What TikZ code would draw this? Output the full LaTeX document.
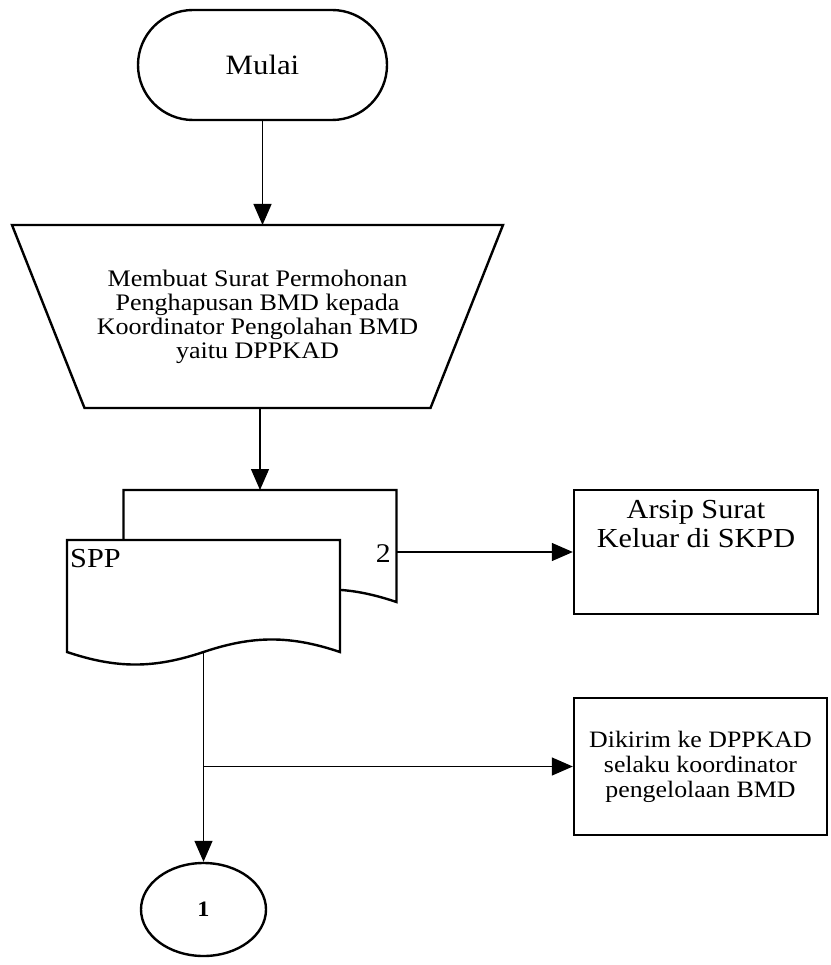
\documentclass[tikz,border=0pt]{standalone}
\usepackage{fontspec}
\setmainfont{Liberation Serif}[FakeStretch=1.1]
\usetikzlibrary{arrows.meta,shapes.misc,shapes.geometric}

\begin{document}
\begin{tikzpicture}[x=1pt,y=-1pt,
  outline/.style={line width=2.4pt, line join=miter},
  flow/.style={line width=1.3pt, -{Triangle[length=21pt,width=18pt]}},
  procbox/.style={draw, outline, fill=white, inner sep=0pt},
  holder/.style={inner sep=0pt, outer sep=0pt},
]
\useasboundingbox (0,0) rectangle (830,965);

% start terminator
\node[procbox, rounded rectangle, minimum width=249pt, minimum height=110pt,
      font=\fontsize{28}{30}\selectfont] (start) at (262.5,65) {Mulai};

% manual operation (trapezoid, wide side up)
\node[holder, minimum width=491pt, minimum height=183pt, align=center,
      font=\fontsize{23.7}{24}\selectfont] (make) at (257.5,316.5)
  {Membuat Surat Permohonan\\Penghapusan BMD kepada\\Koordinator Pengolahan BMD\\yaitu DPPKAD};
\draw[outline] (make.north west) -- (make.north east)
  -- ([xshift=-72.5pt]make.south east) -- ([xshift=72.5pt]make.south west) -- cycle;

% document with its copy behind it
\node[holder, minimum width=273pt, minimum height=112pt] (copy2) at (260,546) {};
\node[holder, minimum width=273pt, minimum height=112pt] (spp) at (203.5,596) {};
\draw[outline, fill=white, shift={(copy2.north west)}]
  (0,112) -- (0,0) -- (273,0) -- (273,112)
  .. controls (223.3,95.3) and (186.2,95.3) .. (136.5,112)
  .. controls (86.8,128.7) and (49.7,128.7) .. (0,112) -- cycle;
\draw[outline, fill=white, shift={(spp.north west)}]
  (0,112) -- (0,0) -- (273,0) -- (273,112)
  .. controls (223.3,95.3) and (186.2,95.3) .. (136.5,112)
  .. controls (86.8,128.7) and (49.7,128.7) .. (0,112) -- cycle;
\node[anchor=base west, inner sep=0pt, font=\fontsize{27.5}{30}\selectfont] (spplabel) at (70,567) {SPP};
\node[anchor=base east, inner sep=0pt, font=\fontsize{27}{30}\selectfont] (copylabel) at (391,562) {2};

% archive box
\node[procbox, minimum width=244pt, minimum height=124pt] (arsip) at (696,552) {};
\node[anchor=north, inner sep=0pt, align=center, font=\fontsize{27.5}{29}\selectfont]
  (arsiptext) at (696,500) {Arsip Surat\\Keluar di SKPD};

% sent-to box
\node[procbox, minimum width=253pt, minimum height=137pt, align=center,
      font=\fontsize{23.5}{25}\selectfont] (send) at (700.5,766.5)
  {Dikirim ke DPPKAD\\selaku koordinator\\pengelolaan BMD};

% off-page connector
\node[procbox, ellipse, minimum width=125pt, minimum height=93pt,
      font=\fontsize{22}{24}\selectfont\bfseries] (conn) at (203.5,909.5) {1};

% connectors
\draw[flow] (start.south) -- (start.south |- make.north);
\draw[flow] (copy2.north |- make.south) -- (copy2.north);
\draw[flow] (copy2.east |- arsip.west) -- (arsip.west);
\draw[flow] (spp.south) -- (spp.south |- conn.north);
\coordinate (split) at (spp.south |- send.west);
\draw[flow] (split) -- (send.west);
\end{tikzpicture}
\end{document}
